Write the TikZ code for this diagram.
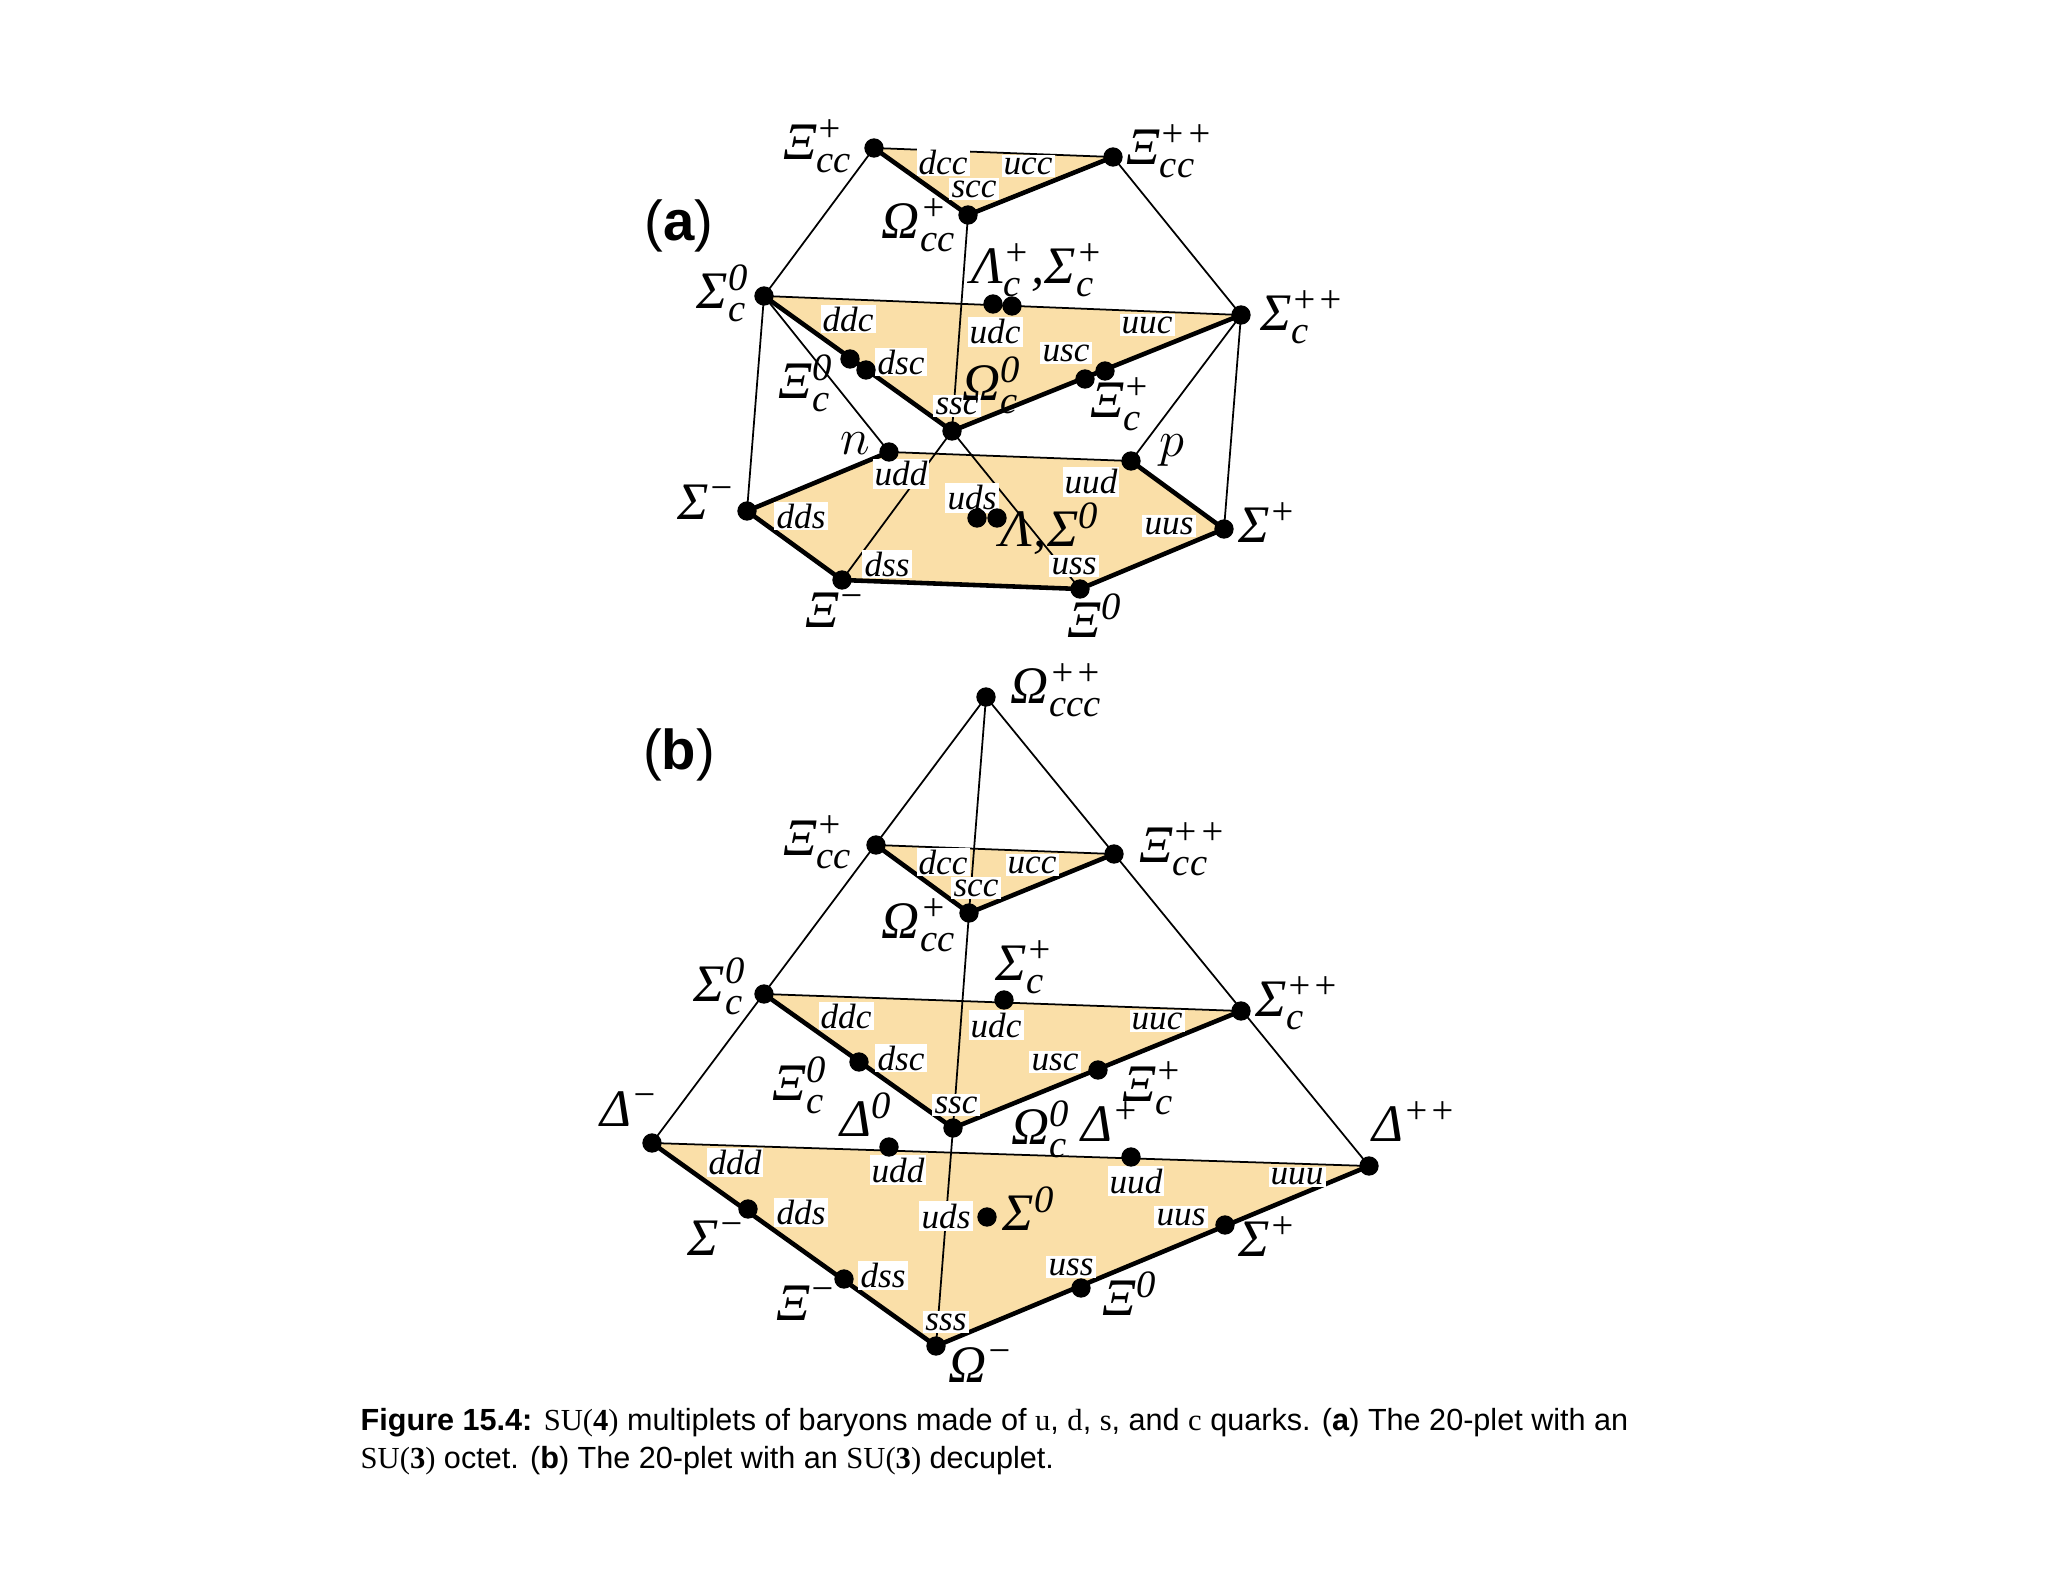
\documentclass[tikz,border=0pt]{standalone}
\usepackage{fontspec}
\setmainfont{Liberation Sans}
\newfontfamily\tms{Liberation Serif}
\newcommand\pp[3]{{\tms\itshape #1}\ensuremath{^{\hbox{\tms\fontsize{11}{11}\selectfont #2}}_{\hbox{\tms\itshape\fontsize{11}{11}\selectfont #3}}}}
\begin{document}
\begin{tikzpicture}[x=0.01cm,y=-0.01cm,
  dotn/.style={circle,fill=black,inner sep=0pt,minimum size=5.5pt},
  thin/.style={line width=0.5pt},
  thick/.style={line width=1.3pt},
  ql/.style={fill=white,inner sep=0.6pt,font=\tms\itshape\fontsize{10}{10}\selectfont},
  pl/.style={inner sep=0pt,font=\tms\itshape\fontsize{15}{15}\selectfont},
  pan/.style={font=\fontsize{16}{16}\selectfont}]
\definecolor{fillc}{RGB}{250,223,168}
\useasboundingbox (0,0) rectangle (2048,1582);
% ================= (a) =================
\coordinate (A1) at (874,148); \coordinate (A2) at (1113,157); \coordinate (A3) at (968,215);
\coordinate (B1) at (764,296); \coordinate (B2) at (1241,315); \coordinate (B3) at (952,431);
\coordinate (n) at (889,452); \coordinate (p) at (1131,461);
\coordinate (Sm) at (747,511); \coordinate (Sp) at (1224,529);
\coordinate (Xm) at (842,580); \coordinate (X0) at (1080,589);
\fill[fillc] (A1)--(A2)--(A3)--cycle;
\fill[fillc] (B1)--(B2)--(B3)--cycle;
\fill[fillc] (n)--(p)--(Sp)--(X0)--(Xm)--(Sm)--cycle;
\draw[thin] (A1)--(B1) (A2)--(B2) (A3)--(B3) (B1)--(Sm) (B2)--(Sp) (B1)--(n) (B2)--(p) (B3)--(Xm) (B3)--(X0);
\draw[thin] (A1)--(A2) (B1)--(B2) (n)--(p);
\draw[thick] (A1)--(A3)--(A2) (B1)--(B3)--(B2) (n)--(Sm)--(Xm)--(X0)--(Sp)--(p);
\foreach \q/\x/\y in {dcc/943/162,ucc/1028/166,scc/974/189,ddc/848/319,udc/995/332,uuc/1147/325,dsc/901/362,usc/1066/353,ssc/957/406,udd/901/474,uud/1091/482,uds/972/498,dds/801/516,uus/1169/526,dss/887/564,uss/1074/566}
  \node[ql] at (\x,\y) {\q};
\foreach \p in {A1,A2,A3,B1,B2,B3,n,p,Sm,Sp,Xm,X0} \node[dotn] at (\p) {};
\node[dotn] (lc1) at (993,304) {}; \node[dotn] (lc2) at (1012,306) {};
\node[dotn] (xc1) at (850,359) {}; \node[dotn] (xc2) at (866,370) {};
\node[dotn] (xp1) at (1085,379) {}; \node[dotn] (xp2) at (1105,371) {};
\node[dotn] (l1) at (977,518) {}; \node[dotn] (l2) at (997,518) {};
\node[pl] at (818,146) {\pp{Ξ}{+}{cc}};
\node[pl] at (1170,151) {\pp{Ξ}{++}{cc}};
\node[pl] at (919,225) {\pp{Ω}{+}{cc}};
\node[pl] at (1038,270) {\pp{Λ}{+}{c},\pp{Σ}{+}{c}};
\node[pl] at (723,293) {\pp{Σ}{0}{c}};
\node[pl] at (1303,317) {\pp{Σ}{++}{c}};
\node[pl] at (806,383) {\pp{Ξ}{0}{c}};
\node[pl] at (992,385) {\pp{Ω}{0}{c}};
\node[pl] at (1121,404) {\pp{Ξ}{+}{c}};
\node[pl] at (855,444) {$n$};
\node[pl] at (1172,451) {$p$};
\node[pl] at (707,508) {\pp{Σ}{−}{}};
\node[pl] at (1050,531) {\pp{Λ}{}{},\pp{Σ}{0}{}};
\node[pl] at (1268,529) {\pp{Σ}{+}{}};
\node[pl] at (836,616) {\pp{Ξ}{−}{}};
\node[pl] at (1095,622) {\pp{Ξ}{0}{}};
\node[pan] at (679,226) {(\textbf{a})};
% ================= (b) =================
\coordinate (T) at (986,697);
\coordinate (C1) at (876,845); \coordinate (C2) at (1114,854); \coordinate (C3) at (969,913);
\coordinate (D1) at (764,994); \coordinate (D2) at (1241,1011); \coordinate (D3) at (953,1128);
\coordinate (E1) at (652,1143); \coordinate (E2) at (1369,1166); \coordinate (E3) at (936,1346);
\fill[fillc] (C1)--(C2)--(C3)--cycle;
\fill[fillc] (D1)--(D2)--(D3)--cycle;
\fill[fillc] (E1)--(E2)--(E3)--cycle;
\draw[thin] (T)--(E1) (T)--(E2) (T)--(C3)--(D3)--(E3);
\draw[thin] (C1)--(C2) (D1)--(D2) (E1)--(E2);
\draw[thick] (C1)--(C3)--(C2) (D1)--(D3)--(D2) (E1)--(E3)--(E2);
\foreach \q/\x/\y in {dcc/943/862,ucc/1032/865,scc/976/888,ddc/846/1016,udc/996/1025,uuc/1157/1021,dsc/901/1058,usc/1055/1062,ssc/956/1105,ddd/735/1162,udd/898/1170,uud/1136/1181,uuu/1297/1177,dds/801/1212,uds/946/1216,uus/1181/1217,dss/883/1275,uss/1071/1267,sss/946/1322}
  \node[ql] at (\x,\y) {\q};
\foreach \p in {T,C1,C2,C3,D1,D2,D3,E1,E2,E3} \node[dotn] at (\p) {};
\node[dotn] at (1004,1000) {}; \node[dotn] at (859,1062) {}; \node[dotn] at (1098,1070) {};
\node[dotn] at (889,1147) {}; \node[dotn] at (1131,1157) {};
\node[dotn] at (748,1209) {}; \node[dotn] at (987,1217) {}; \node[dotn] at (1225,1225) {};
\node[dotn] at (844,1279) {}; \node[dotn] at (1081,1288) {};
\node[pl] at (1057,690) {\pp{Ω}{++}{ccc}};
\node[pl] at (818,842) {\pp{Ξ}{+}{cc}};
\node[pl] at (1183,849) {\pp{Ξ}{++}{cc}};
\node[pl] at (919,925) {\pp{Ω}{+}{cc}};
\node[pl] at (1025,967) {\pp{Σ}{+}{c}};
\node[pl] at (720,986) {\pp{Σ}{0}{c}};
\node[pl] at (1298,1003) {\pp{Σ}{++}{c}};
\node[pl] at (800,1085) {\pp{Ξ}{0}{c}};
\node[pl] at (1153,1088) {\pp{Ξ}{+}{c}};
\node[pl] at (630,1115) {\pp{Δ}{−}{}};
\node[pl] at (867,1121) {\pp{Δ}{0}{}};
\node[pl] at (1041,1129) {\pp{Ω}{0}{c}};
\node[pl] at (1111,1128) {\pp{Δ}{+}{}};
\node[pl] at (1415,1128) {\pp{Δ}{++}{}};
\node[pl] at (1029,1215) {\pp{Σ}{0}{}};
\node[pl] at (717,1244) {\pp{Σ}{−}{}};
\node[pl] at (1268,1243) {\pp{Σ}{+}{}};
\node[pl] at (807,1309) {\pp{Ξ}{−}{}};
\node[pl] at (1130,1300) {\pp{Ξ}{0}{}};
\node[pl] at (981,1371) {\pp{Ω}{−}{}};
\node[pan] at (679,755) {(\textbf{b})};
% caption
\node[anchor=north west,align=left,inner sep=0pt,font=\fontsize{8.7}{10.6}\selectfont] at (360,1408)
 {\textbf{Figure 15.4:} {\tms SU(\textbf{4})} multiplets of baryons made of {\tms u}, {\tms d}, {\tms s}, and {\tms c} quarks. (\textbf{a}) The 20-plet with an\\
 {\tms SU(\textbf{3})} octet. (\textbf{b}) The 20-plet with an {\tms SU(\textbf{3})} decuplet.};
\end{tikzpicture}
\end{document}
